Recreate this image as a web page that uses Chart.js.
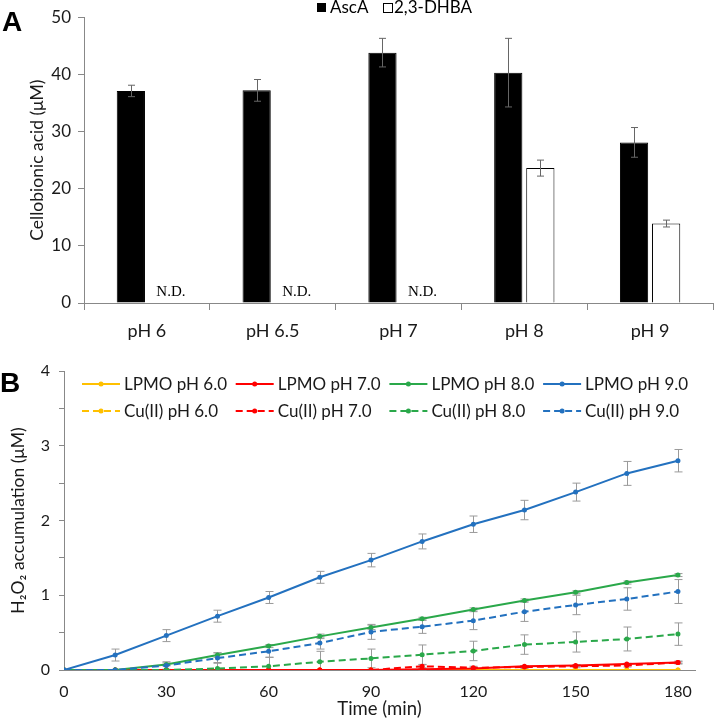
<!DOCTYPE html>
<html>
<head>
<meta charset="utf-8">
<script src="https://cdn.jsdelivr.net/npm/chart.js@4.4.1/dist/chart.umd.min.js"></script>
<style>
body { margin:0; background:#fff; width:714px; height:720px; position:relative; overflow:hidden; }
canvas { position:absolute; left:0; }
#chartA { top:0; }
#chartB { top:345px; }
</style>
</head>
<body>
<canvas id="chartA" width="714" height="345"></canvas>
<canvas id="chartB" width="714" height="375"></canvas>
<script>
// PANEL A - cellobionic acid
const phLabels = ['pH 6', 'pH 6.5', 'pH 7', 'pH 8', 'pH 9'];
const ascA = [37.1, 37.2, 43.8, 40.3, 28.1];
const ascAErr = [1.0, 1.9, 2.5, 6.0, 2.6];
const dhba = [null, null, null, 23.6, 13.9];
const dhbaErr = [0, 0, 0, 1.4, 0.6];

// PANEL B - H2O2 accumulation
const times = [0, 15, 30, 45, 60, 75, 90, 105, 120, 135, 150, 165, 180];
const lpmo6 = [0, 0, 0, 0, 0, 0, 0, 0, 0, 0, 0, 0, 0];
const lpmo7 = [0, 0, 0, 0, 0, 0, 0, 0.01, 0.02, 0.05, 0.06, 0.08, 0.1];
const lpmo8 = [0, 0, 0.075, 0.2, 0.32, 0.45, 0.57, 0.685, 0.81, 0.93, 1.04, 1.17, 1.27];
const lpmo9 = [0, 0.2, 0.46, 0.72, 0.97, 1.24, 1.47, 1.72, 1.95, 2.14, 2.38, 2.63, 2.8];
const cu6 = [0, 0, 0, 0, 0, 0, 0, 0, 0, 0, 0, 0, 0];
const cu7 = [0, 0, 0, 0, 0, 0, 0, 0.05, 0.03, 0.04, 0.05, 0.06, 0.1];
const cu8 = [0, 0, 0, 0.02, 0.05, 0.11, 0.155, 0.205, 0.255, 0.34, 0.375, 0.415, 0.48];
const cu9 = [0, 0, 0.06, 0.16, 0.25, 0.36, 0.51, 0.58, 0.66, 0.78, 0.87, 0.95, 1.05];
const lpmo7Err = [0, 0, 0, 0, 0, 0, 0, 0.01, 0.01, 0.01, 0.01, 0.01, 0.01];
const lpmo8Err = [0, 0, 0.02, 0.03, 0.02, 0.03, 0.03, 0.02, 0.02, 0.02, 0.02, 0.02, 0.02];
const lpmo9Err = [0, 0.08, 0.08, 0.08, 0.08, 0.08, 0.09, 0.1, 0.11, 0.13, 0.12, 0.16, 0.15];
const cu7Err = [0, 0, 0, 0, 0, 0, 0, 0.02, 0.02, 0.02, 0.02, 0.02, 0.02];
const cu8Err = [0, 0, 0.06, 0.08, 0.12, 0.14, 0.125, 0.13, 0.13, 0.13, 0.135, 0.16, 0.15];
const cu9Err = [0, 0, 0.05, 0.07, 0.08, 0.08, 0.1, 0.09, 0.12, 0.13, 0.13, 0.15, 0.16];

const FONT = 'Lato, "Open Sans", sans-serif';
Chart.defaults.font.family = FONT;
Chart.defaults.color = '#1a1a1a';

function pts(arr) {
    return arr.map((v, i) => ({ x: times[i], y: v }));
}

// error bars, drawn from the dataset's err array through the scales
function drawErrBars(chart, capHalf, color) {
    const ctx = chart.ctx;
    const y = chart.scales.y;
    ctx.save();
    ctx.strokeStyle = color;
    ctx.lineWidth = 1;
    chart.data.datasets.forEach((ds, di) => {
        if (!ds.err) return;
        const meta = chart.getDatasetMeta(di);
        meta.data.forEach((el, i) => {
            const raw = ds.data[i];
            const v = (raw && typeof raw === 'object') ? raw.y : raw;
            const e = ds.err[i];
            if (v == null || !e) return;
            const x = Math.round(el.x) + 0.5;
            const y1 = y.getPixelForValue(v + e);
            const y2 = y.getPixelForValue(Math.max(v - e, y.min));
            ctx.beginPath();
            ctx.moveTo(x, y1); ctx.lineTo(x, y2);
            ctx.moveTo(x - capHalf, y1); ctx.lineTo(x + capHalf, y1);
            if (v - e >= y.min) { ctx.moveTo(x - capHalf, y2); ctx.lineTo(x + capHalf, y2); }
            ctx.stroke();
        });
    });
    ctx.restore();
}

const extrasA = {
    id: 'extrasA',
    afterDatasetsDraw(chart) {
        drawErrBars(chart, 3.5, '#666');
    },
    afterDraw(chart) {
        const ctx = chart.ctx;
        ctx.save();
        // panel letter
        ctx.fillStyle = '#000';
        ctx.font = 'bold 28px "Liberation Sans", Arial, sans-serif';
        ctx.textBaseline = 'middle';
        ctx.fillText('A', 2, 23);
        // legend
        ctx.font = '17px ' + FONT;
        ctx.fillRect(317, 3, 9, 9);
        ctx.fillText('AscA', 330, 8);
        ctx.strokeStyle = '#000';
        ctx.lineWidth = 1;
        ctx.strokeRect(383.5, 3.5, 9, 9);
        ctx.fillText('2,3-DHBA', 394, 8);
        // N.D. where 2,3-DHBA is missing
        const m0 = chart.getDatasetMeta(0);
        const m1 = chart.getDatasetMeta(1);
        const shift = m1.data[3].x - m0.data[3].x;
        ctx.font = '15px "Liberation Serif", "Times New Roman", serif';
        ctx.textAlign = 'center';
        ctx.textBaseline = 'alphabetic';
        dhba.forEach((v, i) => {
            if (v == null) ctx.fillText('N.D.', m0.data[i].x + shift + 8, 296);
        });
        ctx.restore();
    }
};

new Chart(document.getElementById('chartA'), {
    type: 'bar',
    data: {
        labels: phLabels,
        datasets: [
            { label: 'AscA', data: ascA, err: ascAErr, backgroundColor: '#000', borderColor: '#000', borderWidth: 1 },
            { label: '2,3-DHBA', data: dhba, err: dhbaErr, backgroundColor: '#fff', borderColor: '#000', borderWidth: 1 }
        ]
    },
    options: {
        responsive: false,
        animation: false,
        layout: { padding: { top: 11, right: 1 } },
        datasets: { bar: { categoryPercentage: 0.51, barPercentage: 0.88 } },
        plugins: { legend: { display: false }, tooltip: { enabled: false } },
        scales: {
            x: {
                grid: { offset: true, drawOnChartArea: false, tickLength: 7, color: '#888' },
                border: { color: '#888' },
                ticks: { font: { size: 18 }, padding: 10 },
                afterFit(s) { s.height = 42; }
            },
            y: {
                min: 0, max: 50,
                ticks: { stepSize: 10, font: { size: 17 }, padding: 7 },
                grid: { drawOnChartArea: false, tickLength: 6, color: '#888' },
                border: { color: '#888' },
                title: { display: true, text: 'Cellobionic acid (μM)', font: { size: 17.5 }, padding: { top: 27, bottom: 0 } },
                afterFit(s) { s.width = 84; }
            }
        }
    },
    plugins: [extrasA]
});

// legend order in panel B: row 1 LPMO, row 2 Cu(II)
const legendOrder = [0, 1, 2, 3, 4, 5, 6, 7];

const extrasB = {
    id: 'extrasB',
    beforeDatasetsDraw(chart) {
        drawErrBars(chart, 4, '#9a9a9a');
    },
    afterDraw(chart) {
        const ctx = chart.ctx;
        ctx.save();
        ctx.fillStyle = '#000';
        ctx.font = 'bold 28px "Liberation Sans", Arial, sans-serif';
        ctx.textBaseline = 'middle';
        ctx.fillText('B', 0, 39);
        // legend
        ctx.font = '17px ' + FONT;
        legendOrder.forEach((di, k) => {
            const ds = chart.data.datasets[di];
            const col = k % 4, row = Math.floor(k / 4);
            const x0 = 82 + col * 153.7;
            const yc = 39 + row * 27;
            ctx.strokeStyle = ds.borderColor;
            ctx.lineWidth = 2;
            ctx.setLineDash(ds.borderDash || []);
            ctx.beginPath();
            ctx.moveTo(x0, yc); ctx.lineTo(x0 + 38, yc);
            ctx.stroke();
            ctx.setLineDash([]);
            ctx.fillStyle = ds.borderColor;
            ctx.beginPath();
            ctx.arc(x0 + 19, yc, 2.5, 0, Math.PI * 2);
            ctx.fill();
            ctx.fillStyle = '#1a1a1a';
            ctx.fillText(ds.label, x0 + 42, yc + 1);
        });
        ctx.restore();
    }
};

const YELLOW = '#FFC000', RED = '#FF0000', GREEN = '#2AA84A', BLUE = '#2371BF';
const DASH = [7, 4];

function lineSet(label, arr, err, color, dash, order) {
    return {
        label: label, data: pts(arr), err: err,
        borderColor: color, backgroundColor: color,
        pointBackgroundColor: color, pointBorderColor: color,
        borderWidth: 2, pointRadius: 2.5, pointBorderWidth: 0,
        borderDash: dash, tension: 0, order: order
    };
}

new Chart(document.getElementById('chartB'), {
    type: 'line',
    data: {
        datasets: [
            lineSet('LPMO pH 6.0', lpmo6, null, YELLOW, [], 3),
            lineSet('LPMO pH 7.0', lpmo7, lpmo7Err, RED, [], 2),
            lineSet('LPMO pH 8.0', lpmo8, lpmo8Err, GREEN, [], 1),
            lineSet('LPMO pH 9.0', lpmo9, lpmo9Err, BLUE, [], 0),
            lineSet('Cu(II) pH 6.0', cu6, null, YELLOW, DASH, 3),
            lineSet('Cu(II) pH 7.0', cu7, cu7Err, RED, DASH, 2),
            lineSet('Cu(II) pH 8.0', cu8, cu8Err, GREEN, DASH, 1),
            lineSet('Cu(II) pH 9.0', cu9, cu9Err, BLUE, DASH, 0)
        ]
    },
    options: {
        responsive: false,
        animation: false,
        layout: { padding: { top: 26, right: 19 } },
        plugins: { legend: { display: false }, tooltip: { enabled: false } },
        scales: {
            x: {
                type: 'linear', min: 0, max: 185,
                ticks: { stepSize: 30, includeBounds: false, font: { size: 16 }, padding: 12 },
                grid: { drawOnChartArea: false, drawTicks: false, color: '#888' },
                border: { color: '#888' },
                title: { display: true, text: 'Time (min)', font: { size: 18.5 }, padding: { top: 0, bottom: 0 } },
                afterFit(s) { s.height = 50; }
            },
            y: {
                min: 0, max: 4,
                ticks: { stepSize: 0.5, font: { size: 16 }, padding: 9, callback: v => Number.isInteger(v) ? v : '' },
                grid: { drawOnChartArea: false, tickLength: 5, color: '#888' },
                border: { color: '#888' },
                title: { display: true, text: 'H\u2082O\u2082 accumulation (μM)', font: { size: 17.5 }, padding: { top: 8, bottom: 0 } },
                afterFit(s) { s.width = 64; }
            }
        }
    },
    plugins: [extrasB]
});
</script>
</body>
</html>
